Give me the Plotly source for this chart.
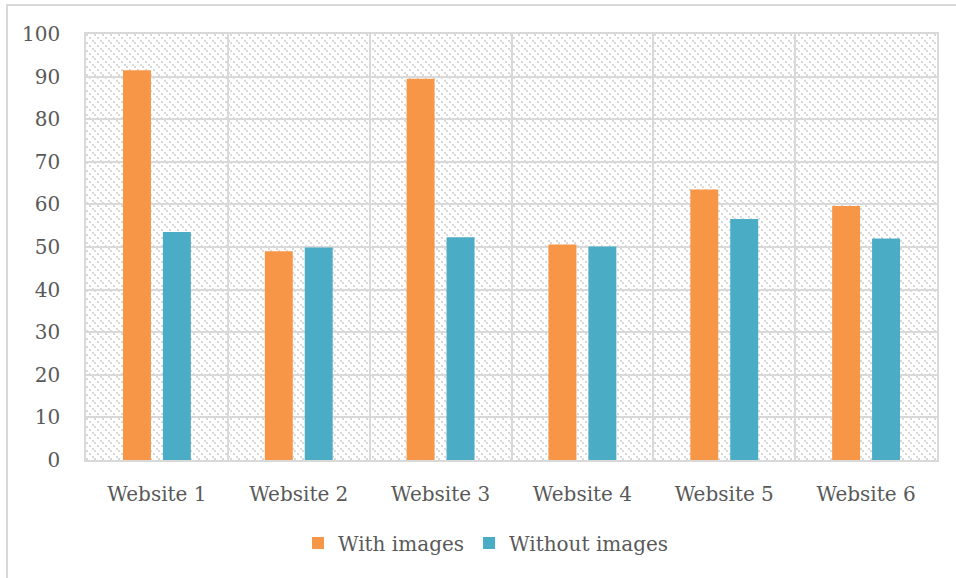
import base64
import plotly.graph_objects as go

categories = ["Website 1", "Website 2", "Website 3", "Website 4", "Website 5", "Website 6"]
with_images = [91.5, 49.0, 89.5, 50.6, 63.5, 59.6]
without_images = [53.5, 49.9, 52.3, 50.1, 56.6, 52.0]
y_ticks = [0, 10, 20, 30, 40, 50, 60, 70, 80, 90, 100]

W, H = 956, 578
ML, MR, MT, MB = 86, 19, 34, 118
PW, PH = W - ML - MR, H - MT - MB

svg = f'''<svg xmlns="http://www.w3.org/2000/svg" width="{PW}" height="{PH}" viewBox="0 0 {PW} {PH}" preserveAspectRatio="none">
<defs><pattern id="p" width="8" height="8" patternUnits="userSpaceOnUse">
<rect x="0" y="0" width="2" height="2" fill="#d9d9d9"/>
<rect x="3" y="3" width="2" height="2" fill="#d9d9d9"/>
<rect x="6" y="6" width="2" height="2" fill="#d9d9d9"/>
</pattern></defs>
<rect width="100%" height="100%" fill="#ffffff"/>
<rect width="100%" height="100%" fill="url(#p)"/>
</svg>'''
src = "data:image/svg+xml;base64," + base64.b64encode(svg.encode()).decode()

FONT = "DejaVu Serif"
TXT = "#595959"
GRID = "#d9d9d9"
FS = 20

fig = go.Figure()
fig.add_trace(go.Bar(name="With images", x=categories, y=with_images,
                     marker=dict(color="#F79646", line=dict(width=0))))
fig.add_trace(go.Bar(name="Without images", x=categories, y=without_images,
                     marker=dict(color="#4BACC6", line=dict(width=0))))

fig.update_layout(
    width=W, height=H,
    margin=dict(l=ML, r=MR, t=MT, b=MB, pad=0),
    paper_bgcolor="white",
    plot_bgcolor="rgba(0,0,0,0)",
    barmode="group", bargap=0.437, bargroupgap=0.3,
    font=dict(family=FONT, size=FS, color=TXT),
    legend=dict(orientation="h", x=0.47, xanchor="center", y=-0.195, yanchor="middle",
                font=dict(family=FONT, size=FS, color=TXT), itemwidth=30,
                traceorder="normal"),
    images=[dict(source=src, xref="paper", yref="paper", x=0, y=1, sizex=1, sizey=1,
                 sizing="stretch", layer="below", xanchor="left", yanchor="top")],
    shapes=[dict(type="rect", xref="paper", yref="paper",
                 x0=(7 - ML) / PW, x1=1.5, y0=-0.6, y1=(MT + PH - 5) / PH,
                 line=dict(color=GRID, width=2), fillcolor="rgba(0,0,0,0)", layer="below")],
)
fig.update_xaxes(showgrid=True, gridcolor=GRID, gridwidth=1.5, tickson="boundaries",
                 showline=True, linecolor=GRID, linewidth=1.5, mirror=True,
                 ticks="", ticklabelstandoff=15,
                 tickfont=dict(family=FONT, size=FS, color=TXT))
fig.update_yaxes(range=[0, 100], tickvals=y_ticks, showgrid=True, gridcolor=GRID, gridwidth=1.5,
                 showline=True, linecolor=GRID, linewidth=1.5, mirror=True, zeroline=False,
                 ticks="", ticklabelstandoff=20,
                 tickfont=dict(family=FONT, size=FS, color=TXT))

fig.write_html("out.html")
